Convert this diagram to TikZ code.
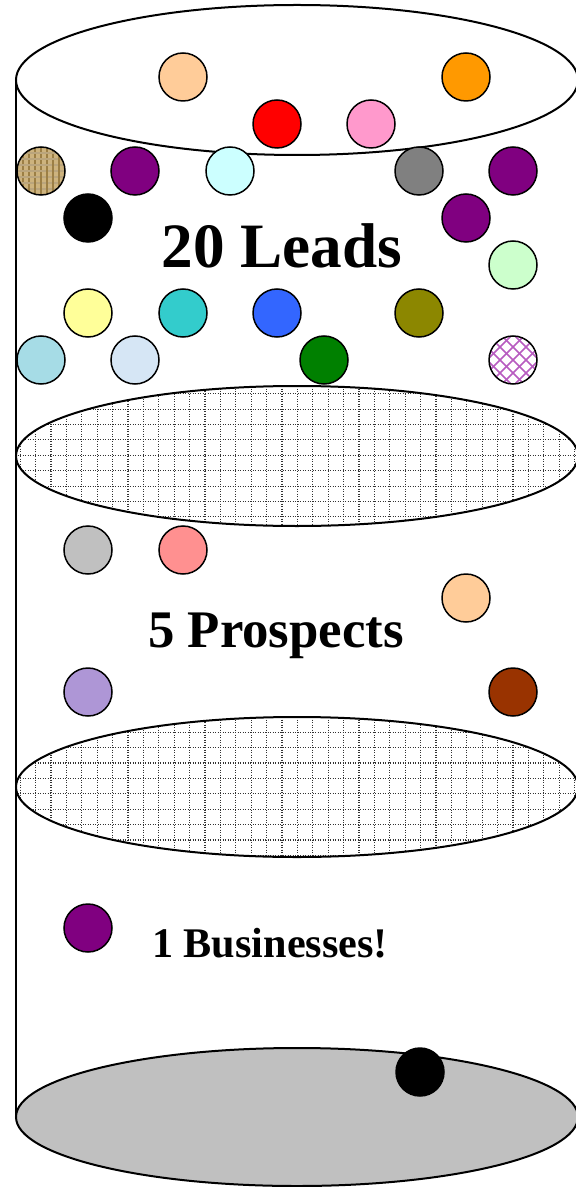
\documentclass[tikz,border=0pt]{standalone}
\usepackage{fontspec}
\setmainfont{Liberation Serif}

\definecolor{peach}{HTML}{FFCC99}
\definecolor{tangerine}{HTML}{FF9900}
\definecolor{rose}{HTML}{FF99CC}
\definecolor{plum}{HTML}{800080}
\definecolor{icecyan}{HTML}{CCFFFF}
\definecolor{mint}{HTML}{CCFFCC}
\definecolor{lemon}{HTML}{FFFF99}
\definecolor{turq}{HTML}{33CCCC}
\definecolor{royal}{HTML}{3366FF}
\definecolor{olivedrab}{HTML}{8C8700}
\definecolor{leaf}{HTML}{008000}
\definecolor{silver}{HTML}{C0C0C0}
\definecolor{salmon}{HTML}{FF9090}
\definecolor{lilac}{HTML}{AE96D6}
\definecolor{rust}{HTML}{993300}
\definecolor{burlap}{HTML}{CDB37E}
\definecolor{burlapdark}{HTML}{9C7F45}
\definecolor{aqua}{HTML}{A6DCE6}
\definecolor{frost}{HTML}{D6E6F5}
\definecolor{lattice}{HTML}{B85CC0}

\tikzset{
  ball/.style={circle, draw=black, line width=0.75pt, minimum size=24pt, inner sep=0pt},
  rim/.style={line width=1pt},
  mesh/.style={black!80, line width=0.55pt, dash pattern=on 0.5pt off 0.75pt},
  label/.style={font=\bfseries, anchor=base, inner sep=0pt}
}

% dotted grid inside a mid ellipse: #1 centre y, #2 one grid line y
\newcommand\meshfill[2]{%
  \begin{scope}
    \clip (297,#1) ellipse [x radius=281, y radius=70];
    \foreach \gx in {4.8,20.2,...,590} \draw[mesh] (\gx,#1-75) -- (\gx,#1+75);
    \foreach \j in {-5,...,5} \draw[mesh] (10,{#2+15.4*\j}) -- (590,{#2+15.4*\j});
  \end{scope}
  \draw[rim] (297,#1) ellipse [x radius=281, y radius=70];
}

\begin{document}
\begin{tikzpicture}[x=0.5pt, y=-0.5pt]
  \useasboundingbox (0,0) rectangle (576,1187);
  \clip (0,0) rectangle (576,1187);

  % cylinder
  \draw[line width=0.75pt] (16,80) -- (16,1117);
  \draw[rim] (297,80) ellipse [x radius=281, y radius=75];
  \meshfill{456}{455.3}
  \meshfill{787}{778.4}
  \draw[rim, fill=silver] (297,1117) ellipse [x radius=281, y radius=69];

  % leads
  \foreach \n/\bx/\by/\col in {
      la/183/77/peach, lb/466/77/tangerine,
      lc/277/124/red, ld/371/124/rose,
      lf/135/171/plum, lg/230/171/icecyan, lh/419/171/gray, li/513/171/plum,
      lj/88/218/black, lk/466/218/plum,
      ll/513/265/mint,
      lm/88/313/lemon, ln/183/313/turq, lo/277/313/royal, lp/419/313/olivedrab,
      ls/324/360/leaf}
    \node[ball, fill=\col] (\n) at (\bx,\by) {};

  \node[ball, fill=burlap, path picture={
      \foreach \k in {-4,...,4} {
        \draw[burlapdark, line width=0.6pt] ([xshift=\k*3pt, yshift=-13pt]path picture bounding box.center) -- ++(0pt,26pt);
        \draw[burlapdark!70, line width=0.6pt] ([xshift=-13pt, yshift=\k*3pt]path picture bounding box.center) -- ++(26pt,0pt);
      }}] (le) at (41,171) {};
  \node[ball, fill=aqua] (lq) at (41,360) {};
  \node[ball, fill=frost] (lr) at (135,360) {};
  \node[ball, fill=white, path picture={
      \foreach \k in {-4,...,4} {
        \draw[lattice, line width=0.8pt] ([xshift=\k*6.5pt-14pt, yshift=-14pt]path picture bounding box.center) -- ++(28pt,28pt);
        \draw[lattice, line width=0.8pt] ([xshift=\k*6.5pt-14pt, yshift=14pt]path picture bounding box.center) -- ++(28pt,-28pt);
      }}] (lt) at (513,360) {};

  \node[label, font=\bfseries\fontsize{31.6pt}{36pt}\selectfont] (leads) at (282,268) {20 Leads};

  % prospects
  \foreach \n/\bx/\by/\col in {
      pa/88/550/silver, pb/183/550/salmon, pc/466/598/peach,
      pd/88/692/lilac, pe/513/692/rust}
    \node[ball, fill=\col] (\n) at (\bx,\by) {};

  \node[label, font=\bfseries\fontsize{26.4pt}{30pt}\selectfont] (prospects) at (276,647) {5 Prospects};

  % business
  \node[ball, fill=plum] (ba) at (88,928) {};
  \node[label, font=\bfseries\fontsize{21.1pt}{24pt}\selectfont] (business) at (270,957) {1 Businesses!};

  \node[ball, fill=black] (bb) at (420,1072) {};
\end{tikzpicture}
\end{document}
